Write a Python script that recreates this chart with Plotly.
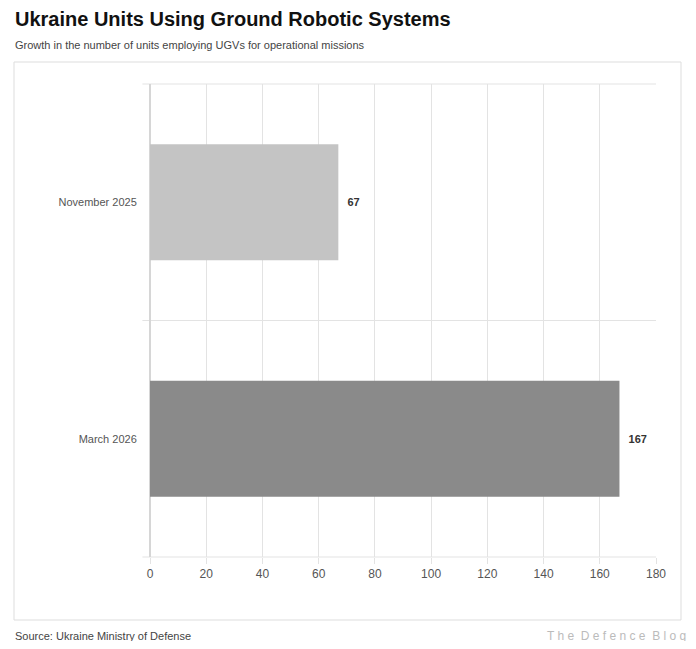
import plotly.graph_objects as go

periods = ["November 2025", "March 2026"]
units = [67, 167]
bar_colors = ["#c4c4c4", "#8a8a8a"]

fig = go.Figure(go.Bar(
    y=periods, x=units, orientation="h",
    marker=dict(color=bar_colors, line=dict(width=0)),
    width=0.49,
    text=[f"  <b>{v}</b>" for v in units], textposition="outside",
    textfont=dict(size=11, color="#333"), cliponaxis=False,
))

# page has an 8px body margin, so work in reference pixels shifted by 8
OFF = 8
W, H = 696 - 2 * OFF, 649 - 2 * OFF
l, r, t, b = 150 - OFF, 696 - 656 - OFF, 84 - OFF, 649 - 557 - OFF
pw, ph = W - l - r, H - t - b
px = lambda x: (x - OFF - l) / pw
py = lambda y: (H - b - (y - OFF)) / ph

shapes = [dict(type="rect", xref="paper", yref="paper",
               x0=px(14), x1=px(681), y0=py(620), y1=py(62),
               line=dict(color="#dddddd", width=1), fillcolor="rgba(0,0,0,0)", layer="below")]
for yy in [0, 0.5, 1]:
    shapes.append(dict(type="line", xref="paper", yref="paper", x0=-0.015, x1=1,
                       y0=yy, y1=yy, line=dict(color="#e3e3e3", width=1), layer="below"))

fig.update_layout(
    width=W, height=H, margin=dict(l=l, r=r, t=t, b=b),
    paper_bgcolor="white", plot_bgcolor="white",
    font=dict(family="Liberation Sans, Arial", color="#555"),
    showlegend=False, shapes=shapes,
    xaxis=dict(range=[0, 180], dtick=20, showgrid=True, gridcolor="#e3e3e3",
               zeroline=True, zerolinecolor="#d6d6d6", ticks="outside", ticklen=6,
               tickcolor="#e3e3e3", tickfont=dict(size=12, color="#555")),
    yaxis=dict(autorange="reversed", showgrid=False, ticks="", ticksuffix="    ",
               tickfont=dict(size=11, color="#555")),
    annotations=[
        dict(text="<b>Ukraine Units Using Ground Robotic Systems</b>", xref="paper", yref="paper",
             x=px(13), y=py(19), xanchor="left", yanchor="middle", showarrow=False,
             font=dict(size=20, color="#111")),
        dict(text="Growth in the number of units employing UGVs for operational missions",
             xref="paper", yref="paper", x=px(13), y=py(45), xanchor="left", yanchor="middle",
             showarrow=False, font=dict(size=11, color="#444")),
        dict(text="Source: Ukraine Ministry of Defense", xref="paper", yref="paper",
             x=px(13), y=py(636), xanchor="left", yanchor="middle", showarrow=False,
             font=dict(size=11, color="#444")),
        dict(text="T h e  D e f e n c e  B l o g", xref="paper", yref="paper",
             x=px(688), y=py(636), xanchor="right", yanchor="middle", showarrow=False,
             font=dict(size=12, color="#bbbbbb")),
    ],
)

fig.write_html("out.html")
